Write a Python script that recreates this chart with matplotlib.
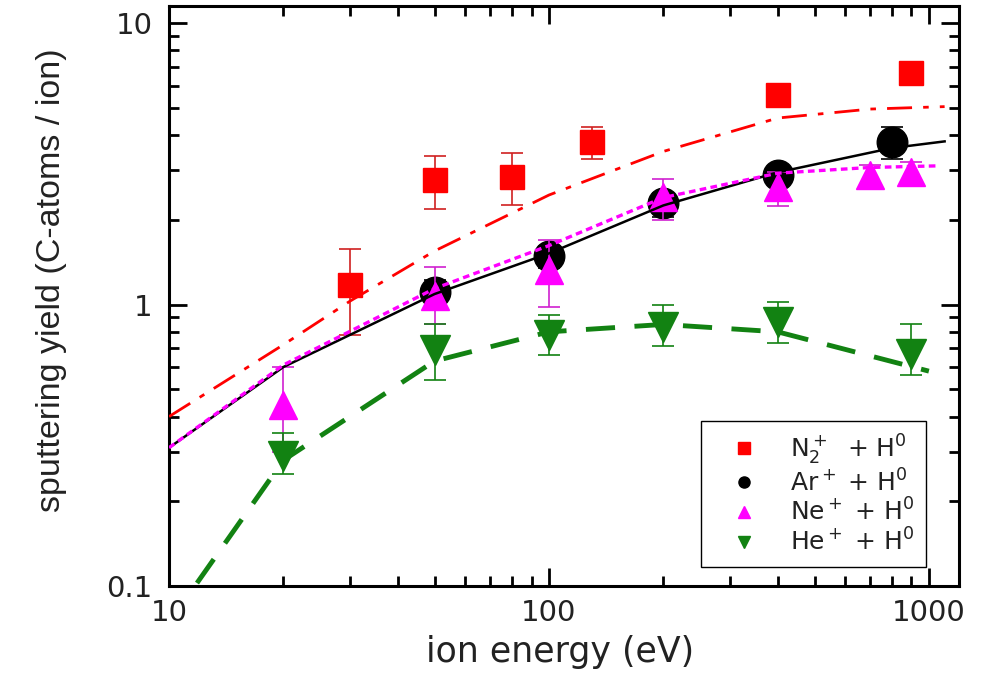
import numpy as np
import matplotlib
matplotlib.use("Agg")
import matplotlib.pyplot as plt
from matplotlib.ticker import FuncFormatter, LogLocator

plt.rcParams['font.family'] = ['DejaVu Sans']
plt.rcParams['mathtext.fontset'] = 'dejavusans'

# measured yields (ion energy in eV, yield, error bar low / high)
n2_E = [30, 50, 80, 130, 400, 900]
n2_Y = [1.17, 2.77, 2.84, 3.78, 5.55, 6.63]
n2_lo = [0.78, 2.18, 2.26, 3.28, 5.2, 6.3]
n2_hi = [1.57, 3.37, 3.45, 4.27, 5.9, 6.85]

ar_E = [50, 100, 200, 400, 800]
ar_Y = [1.11, 1.49, 2.29, 2.88, 3.78]
ar_lo = [1.0, 1.35, 2.05, 2.65, 3.3]
ar_hi = [1.22, 1.62, 2.5, 3.1, 4.27]

ne_E = [20, 50, 100, 200, 400, 700, 900]
ne_Y = [0.44, 1.07, 1.33, 2.41, 2.61, 2.88, 2.96]
ne_lo = [0.30, 0.85, 0.98, 1.99, 2.24, 2.61, 2.73]
ne_hi = [0.60, 1.36, 1.69, 2.79, 2.95, 3.13, 3.2]

he_E = [20, 50, 100, 200, 400, 900]
he_Y = [0.29, 0.69, 0.78, 0.83, 0.87, 0.67]
he_lo = [0.25, 0.54, 0.66, 0.71, 0.73, 0.56]
he_hi = [0.35, 0.85, 0.92, 1.0, 1.02, 0.85]

# model curves
n2_fit_E = [10, 20, 30, 50, 100, 200, 400, 700, 1100]
n2_fit_Y = [0.40, 0.72, 1.03, 1.55, 2.45, 3.5, 4.6, 4.95, 5.05]
ar_fit_E = [10, 20, 50, 100, 200, 400, 800, 1100]
ar_fit_Y = [0.31, 0.60, 1.09, 1.52, 2.25, 2.95, 3.6, 3.8]
ne_fit_E = [10, 20, 50, 100, 200, 400, 700, 1050]
ne_fit_Y = [0.31, 0.61, 1.14, 1.62, 2.4, 2.93, 3.07, 3.11]
he_fit_E = [10, 20, 50, 100, 200, 400, 1000]
he_fit_Y = [0.074, 0.28, 0.63, 0.80, 0.85, 0.80, 0.58]

labels = [r'$\mathrm{N}_2^+$  + H$^0$', r'Ar$^+$ + H$^0$',
          r'Ne$^+$ + H$^0$', r'He$^+$ + H$^0$']

red = '#ff0000'
magenta = '#ff00ff'
green = '#128212'
txt = '#222222'

def yerr(y, lo, hi):
    y = np.array(y)
    return [y - np.array(lo), np.array(hi) - y]

fig = plt.figure(figsize=(9.92, 6.85), dpi=100)
ax = fig.add_axes([0.1704, 0.1445, 0.7963, 0.8467])

ax.errorbar(n2_E, n2_Y, yerr=yerr(n2_Y, n2_lo, n2_hi), fmt='s', color=red, ms=17,
            ecolor='#d02020', elinewidth=1.2, capsize=8, capthick=1.2, zorder=2)
ax.errorbar(ar_E, ar_Y, yerr=yerr(ar_Y, ar_lo, ar_hi), fmt='o', color='black', ms=22,
            ecolor='black', elinewidth=1.2, capsize=8, capthick=1.2, zorder=2)
ax.errorbar(ne_E, ne_Y, yerr=yerr(ne_Y, ne_lo, ne_hi), fmt='^', color=magenta, ms=20,
            ecolor='#d020d0', elinewidth=1.2, capsize=8, capthick=1.2, zorder=3)
ax.errorbar(he_E, he_Y, yerr=yerr(he_Y, he_lo, he_hi), fmt='v', color=green, ms=22,
            ecolor=green, elinewidth=1.2, capsize=8, capthick=1.2, zorder=3)

ax.plot(n2_fit_E, n2_fit_Y, color=red, lw=2, dashes=(9, 4, 2, 4), zorder=4)
ax.plot(ar_fit_E, ar_fit_Y, color='black', lw=1.8, zorder=4)
ax.plot(ne_fit_E, ne_fit_Y, color=magenta, lw=2.4, dashes=(2, 1.3), zorder=4)
ax.plot(he_fit_E, he_fit_Y, color=green, lw=3.5, dashes=(6, 4), zorder=4)

# legend entries
h1, = ax.plot([], [], 's', color=red, ms=8)
h2, = ax.plot([], [], 'o', color='black', ms=8)
h3, = ax.plot([], [], '^', color=magenta, ms=9)
h4, = ax.plot([], [], 'v', color=green, ms=9)
leg = ax.legend([h1, h2, h3, h4], labels,
                loc='lower right', bbox_to_anchor=(0.958, 0.033), fontsize=18,
                frameon=True, fancybox=False, edgecolor='black', framealpha=1,
                handletextpad=0.6, labelspacing=0.1, borderpad=0.45,
                handlelength=2.5, borderaxespad=0)
leg.get_frame().set_linewidth(1.0)
for t in leg.get_texts():
    t.set_color(txt)

ax.set_xscale('log')
ax.set_yscale('log')
ax.set_xlim(10, 1200)
ax.set_ylim(0.1, 11.5)

fmt = FuncFormatter(lambda v, p: '%g' % v)
ax.xaxis.set_major_formatter(fmt)
ax.yaxis.set_major_formatter(fmt)
ax.xaxis.set_minor_locator(LogLocator(base=10, subs=np.arange(2, 10)))
ax.yaxis.set_minor_locator(LogLocator(base=10, subs=np.arange(2, 10)))
ax.tick_params(which='both', direction='in', top=True, right=True, width=2, colors='black',
               labelcolor=txt)
ax.tick_params(which='major', length=13, labelsize=21)
ax.tick_params(axis='x', which='major', pad=9)
ax.tick_params(axis='y', which='major', pad=12)
ax.tick_params(which='minor', length=7)
for s in ax.spines.values():
    s.set_linewidth(2.2)

ax.set_xlabel('ion energy (eV)', fontsize=25, color=txt)
ax.xaxis.set_label_coords(0.495, -0.085)
ax.set_ylabel('sputtering yield (C-atoms / ion)', fontsize=24.5, color=txt,
              fontfamily='Liberation Sans')
ax.yaxis.set_label_coords(-0.129, 0.528)

fig.savefig('out.png', dpi=100, facecolor='white')
